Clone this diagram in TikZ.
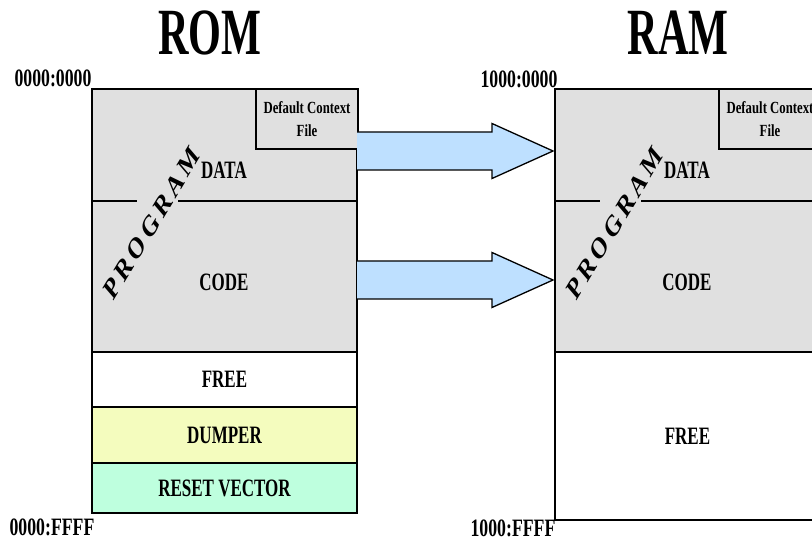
\documentclass[tikz,border=0pt]{standalone}
\usepackage{fontspec}
\setmainfont{Liberation Serif}
\usetikzlibrary{calc}

\definecolor{memgray}{RGB}{224,224,224}
\definecolor{arrowblue}{RGB}{190,224,255}
\definecolor{dumpyellow}{RGB}{244,252,190}
\definecolor{resetgreen}{RGB}{190,255,222}

% Program area (DATA + CODE) of one memory map; #1 = name prefix, #2 = horizontal offset
\newcommand\progblock[2]{%
  \begin{scope}[xshift=#2pt]
    \node[blk, fill=memgray, minimum width=265pt, minimum height=263pt] (#1prog) at (224.5,220.5) {};
    \node[blk, fill=memgray, minimum width=102pt, minimum height=60pt] (#1dcf) at (307,119) {};
    \node[smalltxt] (#1dcftxt) at (#1dcf.center) {Default Context\\File};
    \coordinate (#1gapl) at (137,201);
    \coordinate (#1gapr) at (178,201);
    \draw[divline] (#1prog.west |- #1gapl) -- (#1gapl);
    \draw[divline] (#1gapr) -- (#1prog.east |- #1gapr);
    \node[txt] (#1data) at (224,170) {DATA};
    \node[txt] (#1code) at (224,282) {CODE};
    \node[progword] (#1program) at (152,223) {\addfontfeature{LetterSpace=17}PROGRAM};
  \end{scope}}

% Broad block arrow from point #1 to tip #2 (same height)
\newcommand\bigarrow[2]{%
  \fill[arrowblue] ($(#1)+(0,-19)$) -- ($(#2)+(-61,-19)$) -- ($(#2)+(-61,-27.5)$) -- (#2)
    -- ($(#2)+(-61,27.5)$) -- ($(#2)+(-61,19)$) -- ($(#1)+(0,19)$) -- cycle;
  \draw[arrowline] ($(#1)+(0,-19)$) -- ($(#2)+(-61,-19)$) -- ($(#2)+(-61,-27.5)$) -- (#2)
    -- ($(#2)+(-61,27.5)$) -- ($(#2)+(-61,19)$) -- ($(#1)+(0,19)$);}

\begin{document}
\begin{tikzpicture}[x=1pt, y=-1pt,
  blk/.style={draw=black, line width=1.1pt, inner sep=0pt, outer sep=0pt},
  lowblk/.style={blk, line width=1.5pt, minimum width=265pt},
  divline/.style={line width=1.3pt},
  arrowline/.style={line width=1.3pt, line join=miter},
  txt/.style={font=\fontsize{25}{28}\selectfont\bfseries, xscale=0.68, inner sep=0pt},
  addr/.style={font=\fontsize{25}{28}\selectfont\bfseries, xscale=0.71, inner sep=0pt},
  title/.style={font=\fontsize{66}{70}\selectfont\bfseries, xscale=0.64, inner sep=0pt},
  smalltxt/.style={font=\fontsize{17}{23}\selectfont\bfseries, xscale=0.75, align=center, inner sep=0pt},
  progword/.style={font=\fontsize{30}{33}\selectfont\bfseries, xscale=0.72, rotate=50, inner sep=0pt}]

\useasboundingbox (0,0) rectangle (812,540);
\clip (0,0) rectangle (812,540);

% titles
\node[title] (romtitle) at (210,33) {ROM};
\node[title] (ramtitle) at (678,33) {RAM};

% ROM map
\progblock{rom}{0}
\node[lowblk, fill=white, minimum height=55pt] (romfree) at (224.5,379.5) {};
\node[lowblk, fill=dumpyellow, minimum height=56pt] (romdump) at (224.5,435) {};
\node[lowblk, fill=resetgreen, minimum height=50pt] (romreset) at (224.5,488) {};
\node[txt] (romfreetxt) at (romfree.center) {FREE};
\node[txt] (romdumptxt) at (romdump.center) {DUMPER};
\node[txt] (romresettxt) at (romreset.center) {RESET VECTOR};

% RAM map
\node[lowblk, line width=1.2pt, fill=white, minimum height=168pt] (ramfree) at (687.5,436) {};
\progblock{ram}{463}
\node[txt] (ramfreetxt) at (ramfree.center) {FREE};

% address labels
\node[addr] (romstart) at (53,78) {0000:0000};
\node[addr] (romend) at (52,527) {0000:FFFF};
\node[addr] (ramstart) at (519,79) {1000:0000};
\node[addr] (ramend) at (513,528) {1000:FFFF};

% copy arrows
\coordinate (a1y) at (0,151);
\coordinate (a2y) at (0,280);
\coordinate (a1s) at (romprog.east |- a1y);
\coordinate (a1e) at ($(ramprog.west |- a1y)+(-2,0)$);
\coordinate (a2s) at (romprog.east |- a2y);
\coordinate (a2e) at ($(ramprog.west |- a2y)+(-2,0)$);
\bigarrow{a1s}{a1e}
\bigarrow{a2s}{a2e}
\end{tikzpicture}
\end{document}
